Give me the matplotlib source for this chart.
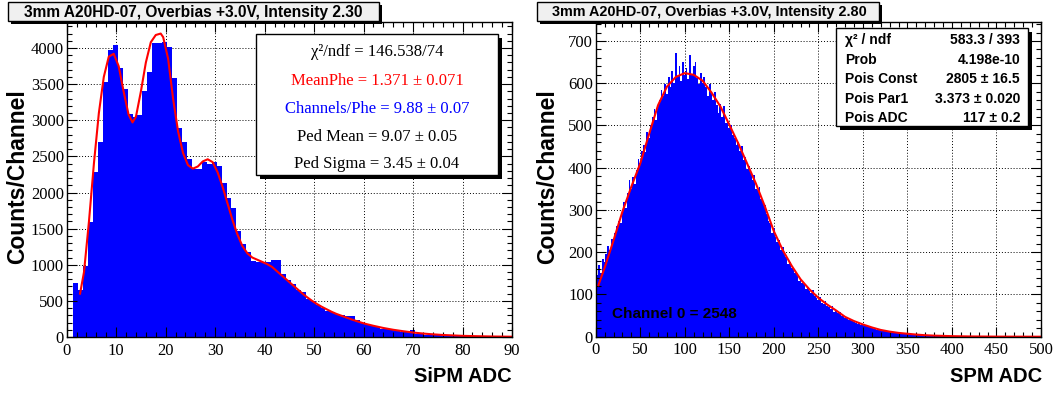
import matplotlib
matplotlib.use("Agg")
import matplotlib.pyplot as plt
from matplotlib.patches import Rectangle
from matplotlib.ticker import MultipleLocator
import numpy as np

plt.rcParams['font.family'] = ['Liberation Sans', 'DejaVu Sans']

W, H = 1056, 394

# ---- left panel: SiPM ADC, one-channel bins (edges sit ~0.3 past the integers)
sipm_edges = np.arange(1, 91) + 0.3
sipm_counts = [750, 650, 980, 1590, 2290, 2700, 3530, 3970, 4040, 3720,
               3430, 3090, 3040, 3070, 3400, 3670, 4070, 4070, 4090, 4010,
               3590, 2890, 2700, 2460, 2330, 2330, 2420, 2400, 2420, 2370,
               2130, 1930, 1790, 1470, 1290, 1170, 1050, 1040, 1040, 1045,
               1065, 1060, 870, 790, 730, 650, 620, 520, 500, 440,
               400, 360, 340, 320, 300, 290, 285, 230, 200, 175,
               155, 140, 115, 105, 95, 80, 75, 65, 95, 45,
               35, 30, 28, 25, 22, 20, 18, 16, 14, 13,
               12, 11, 10, 9, 8, 7, 6, 6, 5]
sipm_fit_x = [2.7, 3.5, 4.5, 5.5, 6.5, 7.5, 8.5, 9.5, 10.5, 11.5, 12.5, 13.3,
              14, 15, 16, 17, 18, 19, 19.5, 20.5, 21.5, 22.5, 23.5, 24.5, 25.5,
              26.5, 27.5, 28.5, 29.5, 30.5, 31.5, 32.5, 33.5, 34.5, 35.5, 36.5,
              37.5, 38.5, 39.5, 40.5, 41.5, 42.5, 43.5, 44.5, 45.5, 46.5, 47.5,
              48.5, 49.5, 50.5, 51.5, 52.5, 53.5, 54.5, 55.5, 56.5, 57.5, 58.5,
              59.5, 60.5, 62, 64, 66, 68, 70, 72, 74, 76, 78, 80, 83, 86, 90]
sipm_fit_y = [600, 900, 1600, 2400, 3100, 3600, 3880, 3920, 3750, 3400, 3080, 2970,
              3050, 3400, 3800, 4080, 4180, 4200, 4150, 3850, 3300, 2850, 2550, 2380, 2330,
              2360, 2430, 2460, 2420, 2280, 2080, 1850, 1620, 1420, 1260, 1160,
              1100, 1070, 1040, 1010, 970, 910, 850, 790, 730, 670, 610,
              555, 505, 460, 420, 385, 350, 320, 295, 270, 245, 222,
              200, 180, 155, 125, 100, 80, 62, 48, 37, 28, 22, 16, 11, 7, 4]

# ---- right panel: SPM ADC, channel 0 alone, then two-channel bins from 1
spm_chan0 = 2548
spm_edges = np.arange(1, 402, 2)
spm_counts = [145, 170, 150, 185, 178, 195, 215, 205, 232, 228,
              245, 262, 275, 268, 300, 318, 305, 340, 372, 350,
              378, 362, 395, 420, 412, 440, 455, 438, 485, 470,
              502, 520, 540, 512, 548, 560, 585, 570, 598, 575,
              615, 590, 628, 600, 672, 618, 640, 605, 650, 620,
              635, 610, 668, 622, 640, 650, 612, 598, 625, 600,
              615, 590, 570, 598, 575, 560, 580, 548, 530, 552,
              520, 545, 505, 512, 495, 500, 478, 470, 455, 462,
              440, 452, 418, 425, 398, 405, 388, 372, 382, 350,
              348, 355, 325, 318, 312, 290, 275, 268, 245, 258,
              236, 225, 230, 205, 212, 195, 188, 172, 178, 162,
              160, 150, 148, 132, 140, 128, 125, 112, 118, 108,
              104, 110, 96, 92, 88, 95, 80, 78, 85, 72,
              70, 66, 72, 58, 60, 55, 58, 50, 48, 45,
              44, 40, 42, 36, 35, 33, 30, 32, 27, 28,
              25, 26, 22, 23, 21, 19, 18, 17, 16, 15,
              14, 13, 14, 11, 12, 10, 11, 9, 9, 8,
              8, 7, 8, 6, 7, 6, 5, 6, 5, 4,
              4, 4, 3, 4, 3, 3, 2, 3, 2, 2,
              2, 2, 1, 2, 1, 1, 1, 1, 1, 1]
spm_fit_x = [3, 10, 20, 30, 40, 50, 60, 70, 80, 90, 100, 110, 120, 130, 140, 150,
             160, 170, 180, 190, 200, 210, 220, 230, 240, 250, 260, 270, 280, 290,
             300, 310, 320, 330, 340, 350, 360, 370, 380, 400, 420, 450, 500]
spm_fit_y = [122, 163, 228, 296, 355, 410, 480, 548, 592, 615, 624, 620, 606, 578, 545, 502,
             458, 410, 362, 308, 250, 205, 168, 136, 112, 92, 76, 62, 47, 37,
             29, 22, 16, 12, 9, 7, 5, 3.5, 2.5, 1.3, 0.6, 0.2, 0]

BLUE = '#0000ff'
RED = '#ff0000'


def fbox(x0, y0, x1, y1):
    # pixel box (origin top-left) -> figure fraction [l, b, w, h]
    return [x0 / W, 1 - y1 / H, (x1 - x0) / W, (y1 - y0) / H]


def ftext(x, y, s, **kw):
    fig.text(x / W, 1 - y / H, s, **kw)


def shadow_box(x0, y0, x1, y1, face, off):
    l, b, w, h = fbox(x0 + off, y0 + off, x1 + off, y1 + off)
    fig.add_artist(Rectangle((l, b), w, h, transform=fig.transFigure,
                             facecolor='black', edgecolor='black', lw=0, zorder=5))
    l, b, w, h = fbox(x0, y0, x1, y1)
    fig.add_artist(Rectangle((l, b), w, h, transform=fig.transFigure,
                             facecolor=face, edgecolor='black', lw=1, zorder=6))


def style(ax, xmaj, xmin, ymaj, ymin):
    ax.xaxis.set_major_locator(MultipleLocator(xmaj))
    ax.xaxis.set_minor_locator(MultipleLocator(xmin))
    ax.yaxis.set_major_locator(MultipleLocator(ymaj))
    ax.yaxis.set_minor_locator(MultipleLocator(ymin))
    ax.tick_params(which='both', direction='in', top=True, right=True,
                   width=0.8, labelsize=12, labelfontfamily='Liberation Serif')
    ax.tick_params(which='major', length=7)
    ax.tick_params(which='minor', length=3.5)
    ax.tick_params(axis='x', pad=4)
    ax.tick_params(axis='y', pad=2)
    for s in ax.spines.values():
        s.set_linewidth(1)
    x0, x1 = ax.get_xlim()
    y0, y1 = ax.get_ylim()
    for v in np.arange(x0 + xmaj, x1, xmaj):
        ax.axvline(v, color='black', lw=0.7, ls=(0, (1, 2)), zorder=0.5)
    for v in np.arange(y0 + ymaj, y1, ymaj):
        ax.axhline(v, color='black', lw=0.7, ls=(0, (1, 2)), zorder=0.5)


fig = plt.figure(figsize=(W / 100, H / 100), dpi=100)

axL = fig.add_axes(fbox(66.7, 22, 512, 337))
axL.stairs(sipm_counts, sipm_edges, fill=True, color=BLUE, lw=0)
axL.plot(sipm_fit_x, sipm_fit_y, color=RED, lw=1.5)
axL.set_xlim(0, 90)
axL.set_ylim(0, 4360)
style(axL, 10, 2, 500, 100)

axR = fig.add_axes(fbox(595.7, 22, 1041, 336.7))
axR.stairs([spm_chan0] + spm_counts, np.concatenate([[0], spm_edges]),
           fill=True, color=BLUE, lw=0)
axR.plot(spm_fit_x, spm_fit_y, color=RED, lw=1.5)
axR.set_xlim(0, 500)
axR.set_ylim(0, 745)
style(axR, 50, 10, 100, 20)

# titles
shadow_box(8, 2, 379, 21, '#f0f0f0', 3)
ftext(193.5, 12, "3mm A20HD-07, Overbias +3.0V, Intensity 2.30",
      ha='center', va='center', fontsize=11.2, fontweight='bold', zorder=7)
shadow_box(537, 2, 879, 21, '#f0f0f0', 3)
ftext(709, 12, "3mm A20HD-07, Overbias +3.0V, Intensity 2.80",
      ha='center', va='center', fontsize=10.4, fontweight='bold', zorder=7)

# axis titles
ftext(512, 377, "SiPM ADC", ha='right', va='center', fontsize=14.5, fontweight='bold')
ftext(1042, 377, "SPM ADC", ha='right', va='center', fontsize=14.5, fontweight='bold')
ftext(17.5, 177, "Counts/Channel", ha='center', va='center', rotation=90,
      fontsize=16.5, fontweight='bold')
ftext(547.5, 177, "Counts/Channel", ha='center', va='center', rotation=90,
      fontsize=16.5, fontweight='bold')

# left fit box
shadow_box(256, 34, 498, 175, 'white', 4)
rows = [("χ²/ndf = 146.538/74", 'black'),
        ("MeanPhe = 1.371 ± 0.071", RED),
        ("Channels/Phe = 9.88 ± 0.07", BLUE),
        ("Ped Mean = 9.07 ± 0.05", 'black'),
        ("Ped Sigma = 3.45 ± 0.04", 'black')]
for (s, c), y in zip(rows, [52, 81, 109, 137, 164]):
    ftext(377, y, s, ha='center', va='center', color=c, fontsize=12,
          family='Liberation Serif', zorder=7)

# right stats box
shadow_box(836, 28, 1028, 126, 'white', 4)
stats = [("χ² / ndf", "583.3 / 393"),
         ("Prob", "4.198e-10"),
         ("Pois Const", "2805 ± 16.5"),
         ("Pois Par1", "3.373 ± 0.020"),
         ("Pois ADC", "117 ± 0.2")]
for (k, v), y in zip(stats, [40, 59.5, 79, 99, 118]):
    ftext(845, y, k, ha='left', va='center', fontsize=10, fontweight='bold', zorder=7)
    ftext(1020, y, v, ha='right', va='center', fontsize=10, fontweight='bold', zorder=7)

ftext(612, 313.5, "Channel 0 = 2548", ha='left', va='center', fontsize=11,
      fontweight='bold')

fig.savefig("out.png", dpi=100)
